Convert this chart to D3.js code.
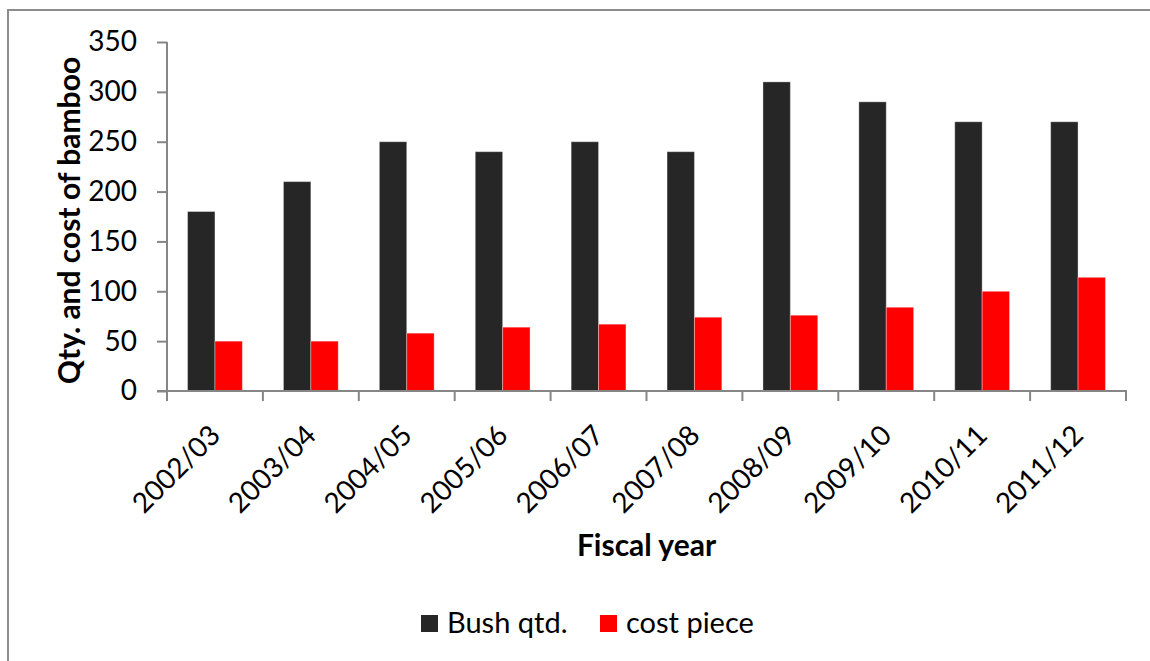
<!DOCTYPE html>
<html>
<head>
<meta charset="utf-8">
<script src="https://cdn.jsdelivr.net/npm/d3@7"></script>
<style>
  html, body { margin: 0; padding: 0; background: #fff; }
  svg { display: block; font-family: Lato, "Open Sans", sans-serif; }
</style>
</head>
<body>
<svg id="chart" width="1150" height="661"></svg>
<script>
// Fiscal years on the x axis
const years = ["2002/03", "2003/04", "2004/05", "2005/06", "2006/07",
               "2007/08", "2008/09", "2009/10", "2010/11", "2011/12"];
// Series values
const bushQtd   = [180, 210, 250, 240, 250, 240, 310, 290, 270, 270];
const costPiece = [50, 50, 58, 64, 67, 74, 76, 84, 100, 114];
const seriesNames = ["Bush qtd.", "cost piece"];
const seriesColors = ["#262626", "#ff0000"];
const yTicks = [0, 50, 100, 150, 200, 250, 300, 350];

const svg = d3.select("#chart");
const plotLeft = 167, plotRight = 1126, plotTop = 42, plotBottom = 391;
const axisColor = "#868686";

// outer frame
svg.append("rect")
  .attr("x", 8).attr("y", 10)
  .attr("width", 1200).attr("height", 700)
  .attr("fill", "none").attr("stroke", "#8c8c8c").attr("stroke-width", 2);

const x = d3.scaleBand().domain(years).range([plotLeft, plotRight]).padding(0);
const x1 = d3.scaleBand().domain(seriesNames).range([0, x.bandwidth()])
  .paddingInner(0).paddingOuter(0.75);
const y = d3.scaleLinear().domain([0, 350]).range([plotBottom, plotTop]);

const rows = years.map((yr, i) => ({ year: yr, values: [bushQtd[i], costPiece[i]] }));

// bars
const groups = svg.append("g").selectAll("g").data(rows).join("g")
  .attr("transform", d => `translate(${x(d.year)},0)`);
groups.selectAll("rect")
  .data(d => d.values.map((v, j) => ({ name: seriesNames[j], value: v, color: seriesColors[j] })))
  .join("rect")
  .attr("x", d => x1(d.name))
  .attr("y", d => y(d.value))
  .attr("width", x1.bandwidth())
  .attr("height", d => y(0) - y(d.value))
  .attr("fill", d => d.color)
  .attr("stroke", "rgba(255,255,255,0.35)")
  .attr("stroke-width", 1);

// y axis
const yAxis = svg.append("g").attr("transform", `translate(${plotLeft},0)`)
  .call(d3.axisLeft(y).tickValues(yTicks).tickSize(10).tickPadding(20));
yAxis.select(".domain").attr("stroke", axisColor).attr("stroke-width", 2)
  .attr("d", `M0,${plotTop}V${plotBottom}`);
yAxis.selectAll(".tick line").attr("stroke", axisColor).attr("stroke-width", 2);
yAxis.selectAll(".tick text").attr("font-size", 28).attr("fill", "#000")
  .attr("font-family", "Lato, sans-serif");

// x axis: line with ticks at category boundaries
const xAxis = svg.append("g");
xAxis.append("line")
  .attr("x1", plotLeft - 10).attr("x2", plotRight + 1)
  .attr("y1", plotBottom).attr("y2", plotBottom)
  .attr("stroke", axisColor).attr("stroke-width", 2);
const bounds = years.map(d => x(d)).concat([x.range()[1]]);
xAxis.selectAll("line.tk").data(bounds).join("line").attr("class", "tk")
  .attr("x1", d => d).attr("x2", d => d)
  .attr("y1", plotBottom).attr("y2", plotBottom + 10)
  .attr("stroke", axisColor).attr("stroke-width", 2);
xAxis.selectAll("text").data(years).join("text")
  .attr("transform", d => `translate(${x(d) + x.bandwidth() / 2},430) rotate(-45)`)
  .attr("text-anchor", "end")
  .attr("dy", "0.35em")
  .attr("font-size", 28)
  .attr("fill", "#000")
  .text(d => d);

// axis titles
svg.append("text")
  .attr("x", (plotLeft + plotRight) / 2).attr("y", 556)
  .attr("text-anchor", "middle")
  .attr("font-size", 30).attr("font-weight", "bold")
  .text("Fiscal year");
svg.append("text")
  .attr("transform", `translate(80,${(plotTop + plotBottom) / 2 + 4}) rotate(-90)`)
  .attr("text-anchor", "middle")
  .attr("font-size", 30).attr("font-weight", "bold")
  .text("Qty. and cost of bamboo");

// legend
const legendX = [421, 600];
const legend = svg.append("g").selectAll("g").data(seriesNames).join("g")
  .attr("transform", (d, i) => `translate(${legendX[i]},615)`);
legend.append("rect")
  .attr("width", 17).attr("height", 17)
  .attr("fill", (d, i) => seriesColors[i]);
legend.append("text")
  .attr("x", 26).attr("y", 18)
  .attr("font-size", 29)
  .text(d => d);
</script>
</body>
</html>
